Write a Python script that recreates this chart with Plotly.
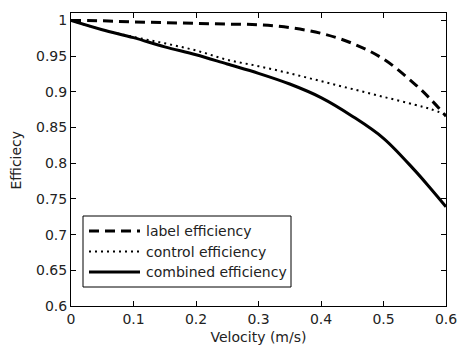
import plotly.graph_objects as go

velocity = [0.0, 0.05, 0.1, 0.15, 0.2, 0.25, 0.3, 0.35, 0.4, 0.45, 0.5, 0.55, 0.575, 0.6]
label_eff = [1.0, 0.9995, 0.998, 0.997, 0.996, 0.995, 0.994, 0.990, 0.982, 0.968, 0.946, 0.911, 0.890, 0.866]
control_eff = [1.0, 0.987, 0.977, 0.968, 0.958, 0.945, 0.936, 0.926, 0.915, 0.904, 0.893, 0.882, 0.876, 0.868]
combined_eff = [1.0, 0.987, 0.976, 0.963, 0.952, 0.939, 0.926, 0.911, 0.892, 0.866, 0.835, 0.790, 0.765, 0.739]

series_names = ["label efficiency", "control efficiency", "combined efficiency"]

x_ticks = [0, 0.1, 0.2, 0.3, 0.4, 0.5, 0.6]
x_tick_text = ["0", "0.1", "0.2", "0.3", "0.4", "0.5", "0.6"]
y_ticks = [0.6, 0.65, 0.7, 0.75, 0.8, 0.85, 0.9, 0.95, 1.0]
y_tick_text = ["0.6", "0.65", "0.7", "0.75", "0.8", "0.85", "0.9", "0.95", "1"]

FONT = "DejaVu Sans, Verdana, sans-serif"
TXT = "#222"

styles = [
    dict(color="black", width=3, dash="10px,6px"),
    dict(color="black", width=2, dash="2px,4px"),
    dict(color="black", width=3),
]

fig = go.Figure()
for name, ys, st in zip(series_names, [label_eff, control_eff, combined_eff], styles):
    fig.add_trace(go.Scatter(x=velocity, y=ys, mode="lines", name=name,
                             line=dict(shape="spline", **st), showlegend=False))

# manual legend (box, line samples, labels) in paper coordinates
PW, PH = 375.0, 293.0
def px(x):
    return (x - 71) / PW
def py(y):
    return (306 - y) / PH

shapes = [dict(type="rect", xref="paper", yref="paper",
               x0=px(83), x1=px(291), y0=py(287), y1=py(216),
               line=dict(color="black", width=1), fillcolor="white", layer="above")]
annotations = []
row_y = [231, 251.5, 272]
for name, st, ry in zip(series_names, styles, row_y):
    shapes.append(dict(type="line", xref="paper", yref="paper",
                       x0=px(89), x1=px(140), y0=py(ry), y1=py(ry),
                       line=st, layer="above"))
    annotations.append(dict(xref="paper", yref="paper", x=px(144), y=py(ry),
                            xanchor="left", yanchor="middle", text=name, showarrow=False,
                            font=dict(family=FONT, size=14, color=TXT)))

# y-axis title placed as rotated text
annotations.append(dict(xref="paper", yref="paper", x=px(15), y=0.5,
                        xanchor="center", yanchor="middle", text="Efficiecy",
                        textangle=-90, showarrow=False,
                        font=dict(family=FONT, size=14, color=TXT)))

axis_common = dict(showline=True, linecolor="black", linewidth=1, mirror="ticks",
                   ticks="inside", ticklen=5, tickcolor="black", showgrid=False,
                   zeroline=False, automargin=False, ticklabeloverflow="allow",
                   tickfont=dict(family=FONT, size=14, color=TXT))

fig.update_layout(
    width=459, height=348,
    margin=dict(l=71, r=13, t=13, b=42),
    paper_bgcolor="white", plot_bgcolor="white",
    font=dict(family=FONT, size=14, color=TXT),
    xaxis=dict(range=[0, 0.6], tickvals=x_ticks, ticktext=x_tick_text,
               title=dict(text="Velocity (m/s)", standoff=6, font=dict(family=FONT, size=14, color=TXT)),
               **axis_common),
    yaxis=dict(range=[0.6, 1.0105], tickvals=y_ticks, ticktext=y_tick_text,
               **axis_common),
    shapes=shapes,
    annotations=annotations,
    showlegend=False,
)

fig.write_html("out.html",
               config=dict(displayModeBar=False),
               post_script="document.body.style.margin='0';document.body.style.overflow='hidden';")
